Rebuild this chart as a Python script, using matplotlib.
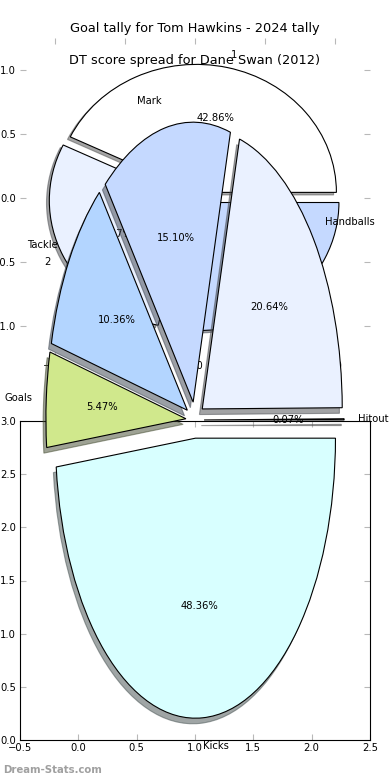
import numpy as np
import matplotlib
matplotlib.use("Agg")
import matplotlib.pyplot as plt

# Tom Hawkins goal tally (top pie)
hawkins_labels = ["1", "2", "3"]
hawkins_pct = [42.86, 28.57, 28.57]

# Dane Swan DT score spread (big pie)
swan_labels = ["Hitout", "Handballs", "Mark", "Tackle", "Goals", "Kicks"]
swan_pct = [0.07, 20.64, 15.10, 10.36, 5.47, 48.36]

pie_colors = ["#ffffff", "#eaf1ff", "#c5d9ff", "#b3d5ff", "#d0e88c", "#d8ffff"]
axis_ticks = [-1.0, -0.5, 0.0, 0.5, 1.0]
bottom_xticks = [-0.5, 0.0, 0.5, 1.0, 1.5, 2.0, 2.5]
bottom_yticks = [0.0, 0.5, 1.0, 1.5, 2.0, 2.5, 3.0]

plt.rcParams["font.family"] = "DejaVu Sans"
plt.rcParams["xtick.direction"] = "in"
plt.rcParams["ytick.direction"] = "in"
plt.rcParams["xtick.top"] = True
plt.rcParams["ytick.right"] = True

W, H = 390.0, 780.0
fig = plt.figure(figsize=(3.9, 7.8), dpi=100)

shadow = {"ox": -0.0144, "oy": -0.0144}
wedge = {"edgecolor": "black", "linewidth": 0.8}
txt = {"fontsize": 7.2}


def tick_style(ax, xpad=2.5, ypad=3):
    # thin old-style ticks, they render light grey
    ax.tick_params(which="both", length=4, width=0.8, color="#b8b8b8",
                   labelsize=7.2, labelcolor="black")
    ax.tick_params(axis="x", pad=xpad)
    ax.tick_params(axis="y", pad=ypad)


# top pie, frame hidden but ticks kept
ax1 = fig.add_axes([20 / W, (H - 358) / H, 350 / W, 320 / H])
ax1.pie(hawkins_pct, labels=hawkins_labels, colors=pie_colors[:3],
        explode=[0.045] * 3, autopct="%.2f%%", shadow=shadow,
        wedgeprops=wedge, textprops=txt)
ax1.set_aspect("auto")
ax1.set_xlim(-1.25, 1.25)
ax1.set_ylim(-1.25, 1.25)
ax1.set_xticks(axis_ticks)
ax1.set_yticks(axis_ticks)
tick_style(ax1)
ax1.set_title("Goal tally for Tom Hawkins - 2024 tally", fontsize=9.3, pad=4)

# leftover plain axes at the bottom
ax3 = fig.add_axes([20 / W, 40 / H, 350 / W, 319 / H])
ax3.set_xlim(-0.5, 2.5)
ax3.set_ylim(0, 3)
ax3.set_xticks(bottom_xticks)
ax3.set_yticks(bottom_yticks)
tick_style(ax3)

# big pie drawn over everything
ax2 = fig.add_axes([20 / W, 10 / H, 350 / W, 700 / H])
ax2.pie(swan_pct, labels=swan_labels, colors=pie_colors,
        explode=[0.065] * 6, autopct="%.2f%%", shadow=shadow,
        wedgeprops=wedge, textprops=txt)
ax2.set_aspect("auto")
ax2.set_xlim(-1.25, 1.25)
ax2.set_ylim(-1.25, 1.25)
ax2.set_title("DT score spread for Dane Swan (2012)", fontsize=9.3, pad=4)

fig.text(0.008, 10 / H, "Dream-Stats.com", color="#a0a0a0", fontsize=7.3,
         fontweight="bold", va="center")

fig.savefig("out.png", dpi=100)
